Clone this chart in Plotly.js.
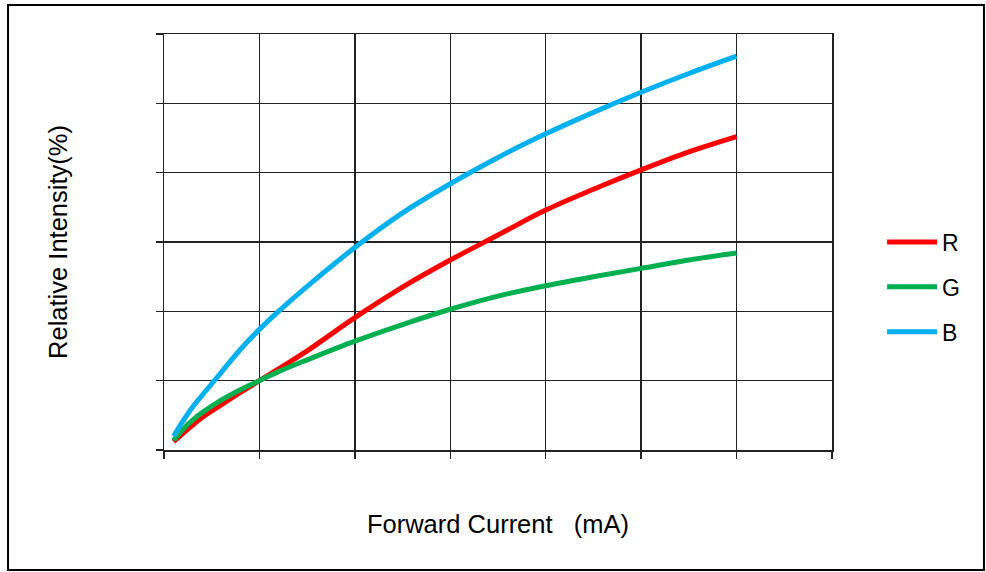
<!DOCTYPE html>
<html>
<head>
<meta charset="utf-8">
<script src="https://cdn.plot.ly/plotly-3.0.1.min.js"></script>
<style>html,body{margin:0;padding:0;background:#fff;}#chart{width:986px;height:572px;}</style>
</head>
<body>
<div id="chart"></div>
<script>
// Forward current (mA) — no tick labels in the original; grid step assumed 5 mA
var current = [0.5, 1, 1.5, 2, 3, 4, 5, 6, 7.5, 10, 12.5, 15, 17.5, 20, 22.5, 25, 27.5, 30];
// Relative intensity (%) — grid step assumed 50 %
var redR   = [6, 12, 18, 23.5, 32.5, 41.5, 50, 58.5, 71.5, 95.5, 117.5, 137, 155, 173, 188, 202, 215, 226];
var greenG = [7, 15, 21.5, 27, 36, 43.5, 50, 56.5, 65, 78.5, 90.5, 101.5, 111, 118.5, 125, 131, 137, 142];
var blueB  = [10, 21, 31, 39.5, 56, 72.5, 87, 100, 118, 146, 171, 192, 211, 228, 243.5, 258, 271.5, 284];
var seriesNames = ['R', 'G', 'B'];

var colors = ['#FF0000', '#00B050', '#00B0F0'];
var allY = [redR, greenG, blueB];
var traces = allY.map(function (ys, i) {
  return {
    x: current, y: ys, name: seriesNames[i], type: 'scatter', mode: 'lines',
    legendgroup: seriesNames[i],
    line: {color: colors[i], width: 5, shape: 'spline', smoothing: 1}
  };
});

var axisCommon = {
  showline: true, mirror: true, linecolor: '#222', linewidth: 1.5,
  showgrid: true, gridcolor: '#222', gridwidth: 1.3,
  zeroline: false, ticks: 'outside', ticklen: 7, tickcolor: '#222', tickwidth: 1.3,
  showticklabels: false, fixedrange: true
};

var layout = {
  width: 986, height: 572,
  margin: {l: 164, r: 154, t: 34, b: 122},
  paper_bgcolor: '#fff', plot_bgcolor: '#fff',
  font: {family: 'Liberation Sans, Arial, sans-serif', color: '#000'},
  xaxis: Object.assign({}, axisCommon, {
    range: [0, 35], dtick: 5, tick0: 0,
    title: {text: 'Forward Current&nbsp;&nbsp; (mA)', font: {size: 25.5}, standoff: 57}
  }),
  yaxis: Object.assign({}, axisCommon, {
    range: [0, 300], dtick: 50, tick0: 0,
    title: {text: 'Relative Intensity(%)', font: {size: 25.5}, standoff: 80}
  }),
  showlegend: true,
  legend: {
    x: 1.075, y: 0.392, xanchor: 'left', yanchor: 'middle',
    font: {size: 23}, itemwidth: 50, tracegroupgap: 12,
    bgcolor: 'rgba(0,0,0,0)'
  },
  shapes: [{
    type: 'rect', xref: 'paper', yref: 'paper',
    x0: -0.2335, x1: 1.2275, y0: -0.2885, y1: 1.0697,
    line: {color: '#000', width: 2}, fillcolor: 'rgba(0,0,0,0)', layer: 'below'
  }]
};

Plotly.newPlot('chart', traces, layout, {displayModeBar: false, staticPlot: true});
</script>
</body>
</html>
